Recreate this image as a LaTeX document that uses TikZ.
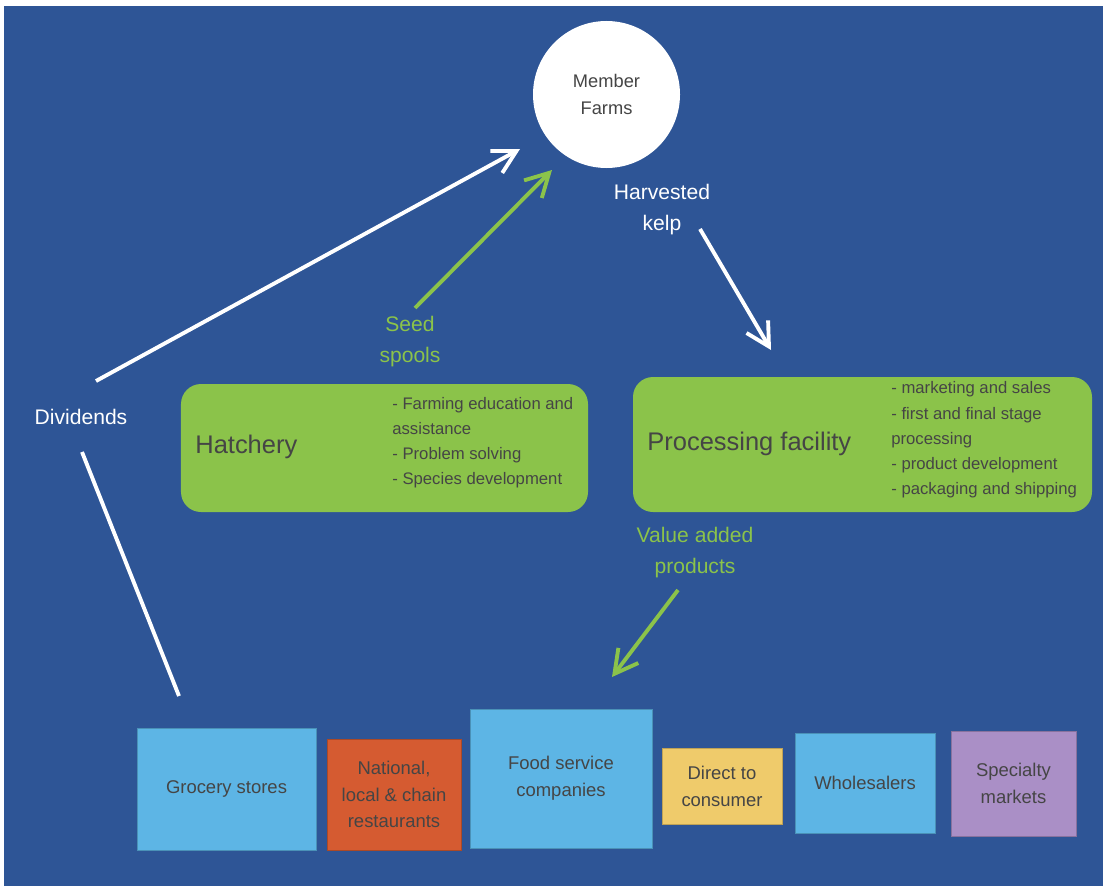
\documentclass[tikz,border=0pt]{standalone}
\usepackage{fontspec}
\setmainfont{Liberation Sans}
\usetikzlibrary{arrows.meta}
\definecolor{bgblue}{HTML}{2E5596}
\definecolor{kelpgreen}{HTML}{8BC34A}
\definecolor{textgrey}{HTML}{454545}
\definecolor{shopblue}{HTML}{5DB5E5}
\definecolor{shoporange}{HTML}{D55B31}
\definecolor{shopyellow}{HTML}{EFCB6B}
\definecolor{shoppurple}{HTML}{AA8FC6}
\begin{document}
\begin{tikzpicture}[x=0.2mm, y=-0.2mm,
  flowlabel/.style={font=\fontsize{12}{17.6}\selectfont, align=center, inner sep=0pt},
  flow/.style={line width=2.2pt, -{Straight Barb[length=4.6mm, width=5mm]}},
  stagebox/.style={fill=kelpgreen, rounded corners=4mm, inner sep=0pt},
  shop/.style={fill=#1, draw=#1!80!black, line width=0.5pt, text=textgrey, align=center,
    inner sep=0pt, font=\fontsize{10.5}{15.3}\selectfont}]
  \useasboundingbox (0,0) rectangle (1103,886);
  \fill[bgblue] (4,6) rectangle (1103,886);

  \node[circle, fill=white, minimum size=29.4mm, inner sep=0pt, text=textgrey, align=center,
    font=\fontsize{10.4}{15.3}\selectfont] (farms) at (606.5,94.5) {Member\\Farms};

  % the two green stages
  \node[stagebox, minimum width=81.4mm, minimum height=25.6mm] (hatch) at (384.5,448) {};
  \node[anchor=west, inner sep=0pt, text=textgrey, font=\fontsize{14.5}{17}\selectfont] (hatchname) at (195,447) {Hatchery};
  \node[anchor=west, text=textgrey, align=left, inner sep=0pt, font=\fontsize{9.5}{14.2}\selectfont]
    (hatchjobs) at (392,443) {- Farming education and\\assistance\\- Problem solving\\- Species development};
  \node[stagebox, minimum width=91.8mm, minimum height=27mm] (proc) at (862.5,444.5) {};
  \node[anchor=west, inner sep=0pt, text=textgrey, font=\fontsize{14.5}{17}\selectfont] (procname) at (647,444) {Processing facility};
  \node[anchor=west, text=textgrey, align=left, inner sep=0pt, font=\fontsize{9.5}{14.4}\selectfont]
    (procjobs) at (891,440) {- marketing and sales\\- first and final stage\\processing\\- product development\\- packaging and shipping};

  % markets along the bottom
  \node[shop=shopblue, minimum width=35.8mm, minimum height=24.4mm] (groc) at (226.5,789) {Grocery stores};
  \node[shop=shoporange, minimum width=26.8mm, minimum height=22.2mm] (rest) at (394,794.5) {National,\\local \& chain\\restaurants};
  \node[shop=shopblue, minimum width=36.4mm, minimum height=27.8mm] (food) at (561,778.5) {Food service\\companies};
  \node[shop=shopyellow, minimum width=24mm, minimum height=15.2mm] (direct) at (722,786) {Direct to\\consumer};
  \node[shop=shopblue, minimum width=28mm, minimum height=20mm] (whole) at (865,783) {Wholesalers};
  \node[shop=shoppurple, minimum width=25mm, minimum height=21mm] (spec) at (1013.5,783.5) {Specialty\\markets};

  % flow labels
  \node[flowlabel, text=white] (div) at (81,417) {Dividends};
  \node[flowlabel, text=kelpgreen] (seed) at (410,341.5) {Seed\\spools};
  \node[flowlabel, text=white] (harv) at (662,209.5) {Harvested\\kelp};
  \node[flowlabel, text=kelpgreen] (value) at (695,552.5) {Value added\\products};

  \coordinate (divup) at (96,381);
  \coordinate (divin) at (520,149);
  \coordinate (divdown) at (82,452);
  \coordinate (divout) at (179,696);
  \coordinate (seedfrom) at (415,308);
  \coordinate (seedto) at (552,170);
  \coordinate (harvfrom) at (700,229);
  \coordinate (harvto) at (771,350);
  \coordinate (valuefrom) at (678,590);
  \coordinate (valueto) at (612,677);

  \draw[flow, white] (divup) -- (divin);
  \draw[white, line width=2.2pt] (divdown) -- (divout);
  \draw[flow, kelpgreen] (seedfrom) -- (seedto);
  \draw[flow, white] (harvfrom) -- (harvto);
  \draw[flow, kelpgreen] (valuefrom) -- (valueto);
\end{tikzpicture}
\end{document}
